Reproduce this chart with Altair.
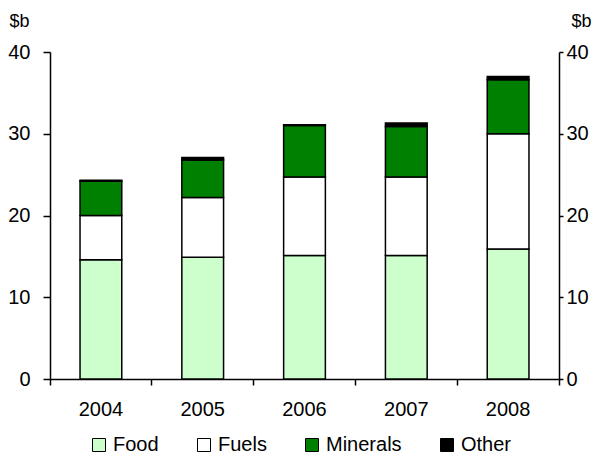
import altair as alt
import pandas as pd

years = ["2004", "2005", "2006", "2007", "2008"]
categories = ["Food", "Fuels", "Minerals", "Other"]
food = [14.6, 14.9, 15.1, 15.1, 15.9]
fuels = [5.4, 7.3, 9.6, 9.6, 14.1]
minerals = [4.2, 4.6, 6.3, 6.2, 6.6]
other = [0.1, 0.3, 0.1, 0.4, 0.4]
colors = ["#CCFFCC", "#FFFFFF", "#008000", "#000000"]
y_ticks = [0, 10, 20, 30, 40]

rows = []
for i, yr in enumerate(years):
    for j, (c, s) in enumerate(zip(categories, [food, fuels, minerals, other])):
        rows.append({"year": yr, "category": c, "value": s[i], "order": j})
df = pd.DataFrame(rows)

font = "Liberation Sans"
FS = 20

xscale = alt.Scale(paddingInner=0, paddingOuter=0)
xaxis = alt.Axis(labelAngle=0, bandPosition=1, tickExtra=True, tickSize=6, labelPadding=14)

common = dict(values=y_ticks, title="$b", titleAngle=0, titleFont=font, titleFontSize=18,
              titleFontWeight="normal", titleColor="black",
              titleAlign="left", titleBaseline="middle", titleY=-31)
yaxis_left = alt.Axis(orient="left", tickSize=7, labelPadding=13, titleX=-41, **common)
yaxis_right = alt.Axis(orient="right", tickSize=4, labelPadding=3, titleX=12, **common)

bars = alt.Chart(df).mark_bar(stroke="black", strokeWidth=1.5, width=alt.RelativeBandSize(0.41)).encode(
    x=alt.X("year:N", title=None, scale=xscale, axis=xaxis),
    y=alt.Y("sum(value):Q", stack="zero", scale=alt.Scale(domain=[0, 40], nice=False), axis=yaxis_left),
    color=alt.Color("category:N", scale=alt.Scale(domain=categories, range=colors),
                    sort=categories,
                    legend=alt.Legend(title=None, orient="none", direction="horizontal",
                                      columns=4, legendX=39, legendY=383,
                                      symbolType="square", symbolSize=169,
                                      symbolStrokeColor="black", symbolStrokeWidth=1,
                                      labelFont=font, labelFontSize=FS, labelColor="black",
                                      labelOffset=4, columnPadding=35)),
    order=alt.Order("order:Q", sort="ascending"),
)

right = alt.Chart(df).mark_point(opacity=0).encode(
    y=alt.Y("sum(value):Q", scale=alt.Scale(domain=[0, 40], nice=False), axis=yaxis_right),
)

chart = alt.layer(bars, right).resolve_scale(y="independent").properties(
    width=509, height=327,
    background="white",
    autosize=alt.AutoSizeParams(type="none"),
    padding={"left": 42, "top": 44, "right": 33, "bottom": 75},
).configure_view(stroke=None).configure_axis(
    grid=False, domain=True, ticks=True,
    domainColor="#000000", tickColor="#000000", domainWidth=1.5, tickWidth=1.5,
    labelFont=font, labelFontSize=FS, labelColor="#000000", domainOpacity=1, tickOpacity=1,
)

chart.save("out.html", embed_options={"renderer": "svg", "actions": False})
